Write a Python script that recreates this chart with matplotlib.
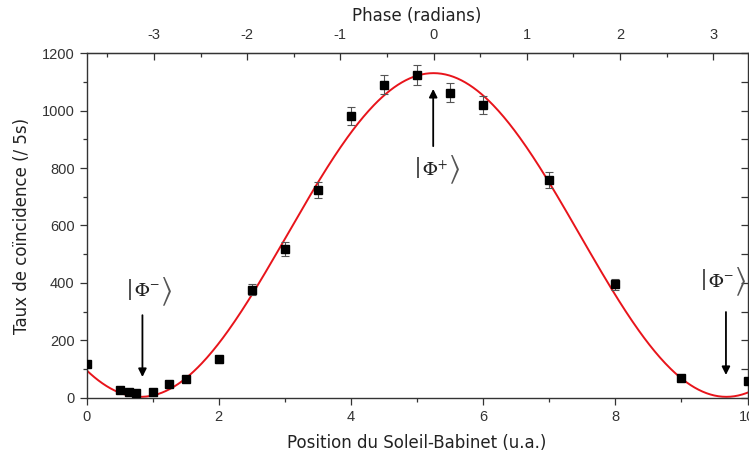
import numpy as np
import matplotlib.pyplot as plt
from matplotlib.ticker import MultipleLocator

plt.rcParams.update({
    "font.family": ["Liberation Sans", "DejaVu Sans"],
    "mathtext.fontset": "stix",
    "axes.unicode_minus": False,
})

# measured points
position = [0, 0.5, 0.65, 0.75, 1.0, 1.25, 1.5, 2.0, 2.5, 3.0,
            3.5, 4.0, 4.5, 5.0, 5.5, 6.0, 7.0, 8.0, 9.0, 10.0]
counts = [118, 28, 21, 16, 22, 50, 65, 135, 376, 518,
          724, 981, 1089, 1123, 1062, 1019, 758, 395, 71, 58]
errors = [11, 5, 5, 4, 5, 7, 8, 12, 19, 23,
          27, 31, 33, 34, 33, 32, 28, 20, 8, 8]

# fit parameters (cosine fringe)
fit_offset = 567
fit_amp = 563
x_zero_phase = 5.25   # position where phase = 0
x_per_rad = 1.41      # position units per radian

# state labels: (text, label x, label y, arrow x, arrow start y, arrow end y)
states = [
    (r"$\Phi^{-}$", 0.92, 369, 0.846, 288, 73),
    (r"$\Phi^{+}$", 5.27, 793, 5.245, 876, 1075),
    (r"$\Phi^{-}$", 9.60, 403, 9.674, 299, 80),
]


def to_phase(x):
    return (np.asarray(x) - x_zero_phase) / x_per_rad


def from_phase(p):
    return np.asarray(p) * x_per_rad + x_zero_phase


# --------------------------------------------------------------------------- #
fig = plt.figure(figsize=(7.49, 4.61), dpi=100)
ax = fig.add_axes([0.1155, 0.1367, 0.8825, 0.7483])

x_fit = np.linspace(0, 10, 500)
y_fit = fit_offset + fit_amp * np.cos(to_phase(x_fit))
ax.plot(x_fit, y_fit, color="#e8141b", lw=1.4, zorder=2)

ax.errorbar(position, counts, yerr=errors, fmt="s", color="black",
            ms=5.5, ecolor="#555555", elinewidth=0.8, capsize=3,
            capthick=0.8, zorder=3)

ax.set_xlim(0, 10)
ax.set_ylim(0, 1200)
ax.xaxis.set_major_locator(MultipleLocator(2))
ax.xaxis.set_minor_locator(MultipleLocator(1))
ax.yaxis.set_major_locator(MultipleLocator(200))
ax.yaxis.set_minor_locator(MultipleLocator(100))
ax.tick_params(which="both", direction="out", labelsize=10.5,
               top=False, right=True, colors="#333333")
ax.tick_params(which="major", length=5, width=0.9)
ax.tick_params(which="minor", length=3, width=0.9)
for s in ax.spines.values():
    s.set_color("#333333")
    s.set_linewidth(1.0)

# right side ticks point inward
for t in ax.yaxis.get_major_ticks() + ax.yaxis.get_minor_ticks():
    t.tick2line.set_marker(0)   # TICKLEFT
    t.tick2line.set_markersize(5)

ax.set_xlabel("Position du Soleil-Babinet (u.a.)", fontsize=12,
              family="DejaVu Sans", labelpad=7, color="#222222")
ax.set_ylabel("Taux de coïncidence (/ 5s)", fontsize=12,
              family="DejaVu Sans", labelpad=8, color="#222222")

sec = ax.secondary_xaxis("top", functions=(to_phase, from_phase))
sec.xaxis.set_major_locator(MultipleLocator(1))
sec.xaxis.set_minor_locator(MultipleLocator(0.5))
sec.tick_params(which="both", direction="in", labelsize=10.5,
                colors="#333333")
sec.tick_params(which="major", length=5, width=0.9, pad=8)
sec.tick_params(which="minor", length=3, width=0.9)
sec.set_xlabel("Phase (radians)", fontsize=12, family="DejaVu Sans",
               labelpad=5, color="#222222")

# state annotations: arrow + ket |...>
arrow = dict(arrowstyle="-|>", color="black", lw=1.3,
             mutation_scale=12, shrinkA=0, shrinkB=0)
for txt, lx, ly, axx, y0, y1 in states:
    ax.annotate("", xy=(axx, y1), xytext=(axx, y0), arrowprops=arrow)
    ax.text(lx, ly, txt, ha="center", va="center", fontsize=14,
            color="#222222")
    ax.annotate(r"$|$", xy=(lx, ly), xytext=(-13, 0),
                textcoords="offset points", ha="center", va="center",
                fontsize=22, color="#555555")
    ax.annotate(r"$\rangle$", xy=(lx, ly), xytext=(13.5, 0),
                textcoords="offset points", ha="center", va="center",
                fontsize=22, color="#555555")

fig.savefig("out.png", dpi=100)
